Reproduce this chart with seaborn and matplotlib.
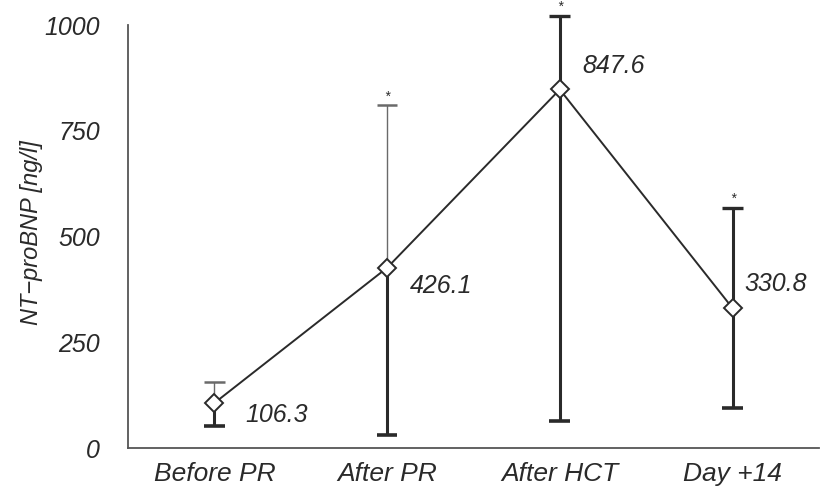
import matplotlib
matplotlib.use("Agg")
import matplotlib.pyplot as plt
import seaborn as sns
import pandas as pd

# values
stages = ["Before PR", "After PR", "After HCT", "Day +14"]
means = [106.3, 426.1, 847.6, 330.8]
upper = [156, 811, 1022, 568]
lower = [52, 31, 64, 94]
signif = [False, True, True, True]
value_labels = ["106.3", "426.1", "847.6", "330.8"]

sns.set_style("white")
plt.rcParams["font.family"] = ["Liberation Sans", "DejaVu Sans"]
plt.rcParams["font.style"] = "italic"

df = pd.DataFrame({"stage": stages, "value": means})

fig = plt.figure(figsize=(8.23, 4.87), dpi=100)
ax = fig.add_axes([0.1555, 0.080, 0.8395, 0.8686])

ink = "#2a2a2a"
thin = "#6a6a6a"
cap = 0.06

# error bars: upper half thin for the first two, thick for the others; lower half thick
for i, (m, up, lo) in enumerate(zip(means, upper, lower)):
    up_thin = i < 2
    c_up = thin if up_thin else ink
    w_up = 1.0 if up_thin else 2.2
    ax.vlines(i, m, up, color=c_up, lw=w_up, clip_on=False, zorder=2)
    ax.hlines(up, i - cap, i + cap, color=c_up, lw=1.8 if up_thin else 2.4,
              clip_on=False, zorder=2)
    ax.vlines(i, lo, m, color=ink, lw=2.2, clip_on=False, zorder=2)
    ax.hlines(lo, i - cap, i + cap, color=ink, lw=2.6, clip_on=False, zorder=2)
    if signif[i]:
        ax.text(i, up + 4, "*", ha="center", va="bottom", fontsize=10,
                color=ink, clip_on=False)

sns.lineplot(data=df, x="stage", y="value", sort=False, color=ink, lw=1.4,
             marker="D", markersize=9, markerfacecolor="white",
             markeredgecolor=ink, markeredgewidth=1.4, ax=ax, zorder=3)

offsets = [(0.18, -28), (0.13, -42), (0.13, 55), (0.07, 58)]
for i, (m, lab) in enumerate(zip(means, value_labels)):
    dx, dy = offsets[i]
    ax.text(i + dx, m + dy, lab, ha="left", va="center", fontsize=18,
            color=ink)

ax.set_xlim(-0.5, 3.5)
ax.set_ylim(0, 1000)
ax.set_yticks([0, 250, 500, 750, 1000])
ax.set_xticks(range(len(stages)))
ax.set_xticklabels(stages)
ax.set_xticks([0.5, 1.5, 2.5, 3.5], minor=True)
ax.tick_params(axis="x", which="major", length=0, pad=10, labelsize=19, labelcolor=ink)
ax.tick_params(axis="x", which="minor", length=6, width=1.2, color="#555555", direction="out")
ax.tick_params(axis="y", length=8, width=1.2, color="#555555", direction="out",
               labelsize=18, labelcolor=ink, pad=12)
ax.set_xlabel("")
ax.set_ylabel("NT\u2212proBNP [ng/l]", fontsize=17, color=ink, labelpad=0)
ax.yaxis.set_label_coords(-0.123, 0.51)

for s in ["top", "right"]:
    ax.spines[s].set_visible(False)
for s in ["left", "bottom"]:
    ax.spines[s].set_color("#555555")
    ax.spines[s].set_linewidth(1.3)

fig.savefig("out.png", dpi=100)
